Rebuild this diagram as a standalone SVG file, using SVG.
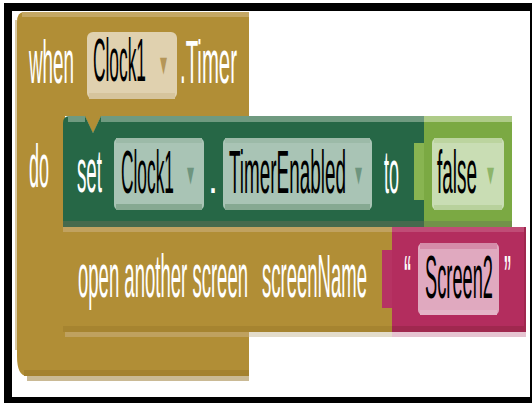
<svg xmlns="http://www.w3.org/2000/svg" width="532" height="403" viewBox="0 0 532 403">
<style>
.lbl{font-family:"Liberation Sans",Arial,sans-serif;font-size:61px;fill:#ffffff}
.fld{font-family:"Liberation Sans",Arial,sans-serif;font-size:61px;fill:#000000}
.arr{font-family:"DejaVu Sans",sans-serif;font-size:34px}
</style>
<rect x="0" y="0" width="532" height="403" fill="#ffffff"/>
<g id="frame">
<rect x="4" y="3" width="528" height="400" fill="#000000"/>
<rect x="12" y="11" width="518" height="386" fill="#ffffff"/>
</g>
<g id="event-block">
<path d="M24 12H249V116H101L93 133L85 116H65V332H249V376H27Q17 376 17 356V22Q17 12 24 12Z" fill="#B18E36"/>
<polygon points="85,116 101,116 93,133" fill="#B18E36"/>
<rect x="22" y="12" width="227" height="5" fill="#C4A764"/>
<rect x="15" y="20" width="2" height="330" fill="#D9C9A3"/>
<rect x="24" y="370" width="225" height="6" fill="#A4822F"/>
<rect x="27" y="376" width="222" height="5" fill="#CABA95"/>
<rect x="65" y="332" width="184" height="5" fill="#BFA15F"/>
<rect x="87" y="32" width="90" height="67" rx="6" fill="#E0D1AF"/>
<rect x="89" y="93" width="86" height="6" fill="#D6C49C"/>
<text class="lbl" x="29" y="83" textLength="45" lengthAdjust="spacingAndGlyphs">when</text>
<text class="fld" x="93" y="81" textLength="53" lengthAdjust="spacingAndGlyphs">Clock1</text>
<text class="arr" x="160" y="75" fill="#B59658" textLength="7" lengthAdjust="spacingAndGlyphs">▾</text>
<text class="lbl" x="180" y="83" textLength="57" lengthAdjust="spacingAndGlyphs">.Timer</text>
<text class="lbl" x="29" y="187" textLength="20" lengthAdjust="spacingAndGlyphs">do</text>
</g>
<g id="set-block">
<path d="M70 116H85L93 133L101 116H424V227H102L93 240L84 227H63V123Q63 116 70 116Z" fill="#266746"/>
<rect x="68" y="116" width="17" height="6" fill="#6F9A80"/>
<rect x="101" y="116" width="323" height="6" fill="#6F9A80"/>
<rect x="63" y="221" width="361" height="6" fill="#466A4D"/>
<rect x="114" y="138" width="90" height="72" rx="5" fill="#A9C4B5"/>
<rect x="116" y="138" width="86" height="5" fill="#9CBAA8"/>
<rect x="116" y="204" width="86" height="6" fill="#86A992"/>
<rect x="223" y="138" width="149" height="72" rx="5" fill="#A9C4B5"/>
<rect x="225" y="138" width="145" height="5" fill="#9CBAA8"/>
<rect x="225" y="204" width="145" height="6" fill="#86A992"/>
<text class="lbl" x="77" y="192" textLength="25" lengthAdjust="spacingAndGlyphs">set</text>
<text class="fld" x="121" y="193" textLength="53" lengthAdjust="spacingAndGlyphs">Clock1</text>
<text class="arr" x="187" y="185" fill="#6E957F" textLength="7" lengthAdjust="spacingAndGlyphs">▾</text>
<text class="lbl" x="208" y="193" style="font-size:44px" textLength="10" lengthAdjust="spacingAndGlyphs">.</text>
<text class="fld" x="229" y="193" textLength="117" lengthAdjust="spacingAndGlyphs">TimerEnabled</text>
<text class="arr" x="355" y="185" fill="#6E957F" textLength="7" lengthAdjust="spacingAndGlyphs">▾</text>
<text class="lbl" x="384" y="193" textLength="15" lengthAdjust="spacingAndGlyphs">to</text>
</g>
<g id="false-block">
<path d="M424 116H512V227H424V200H414V143H424Z" fill="#7BA943"/>
<rect x="414" y="143" width="10" height="57" fill="#88B451"/>
<rect x="424" y="116" width="88" height="6" fill="#AECB88"/>
<rect x="424" y="221" width="88" height="6" fill="#72924A"/>
<rect x="432" y="138" width="72" height="72" rx="5" fill="#C9DDB4"/>
<rect x="434" y="138" width="68" height="5" fill="#BCD49F"/>
<rect x="434" y="205" width="68" height="5" fill="#B8D19C"/>
<text class="fld" x="437" y="193" textLength="40" lengthAdjust="spacingAndGlyphs">false</text>
<text class="arr" x="487" y="185" fill="#8DB56A" textLength="7" lengthAdjust="spacingAndGlyphs">▾</text>
</g>
<g id="open-screen-block">
<path d="M63 227H392V332H63Z" fill="#B18E36"/>
<rect x="63" y="227" width="329" height="5" fill="#C1A260"/>
<rect x="63" y="326" width="329" height="6" fill="#A68430"/>
<rect x="249" y="332" width="143" height="5" fill="#E3DCCB"/>
<text class="lbl" x="78" y="297" textLength="170" lengthAdjust="spacingAndGlyphs">open another screen</text>
<text class="lbl" x="262" y="297" textLength="105" lengthAdjust="spacingAndGlyphs">screenName</text>
</g>
<g id="text-block">
<path d="M392 227H526V332H392V308H382V250H392Z" fill="#B32D5E"/>
<rect x="382" y="250" width="10" height="58" fill="#B63363"/>
<rect x="392" y="227" width="134" height="5" fill="#C04C76"/>
<rect x="392" y="326" width="134" height="6" fill="#A0284F"/>
<rect x="524" y="227" width="2" height="105" fill="#A0284F"/>
<rect x="392" y="332" width="134" height="5" fill="#E6C4D1"/>
<rect x="418" y="243" width="81" height="72" rx="5" fill="#E0A9BF"/>
<rect x="420" y="243" width="77" height="6" fill="#D58CA9"/>
<rect x="420" y="310" width="77" height="5" fill="#E4B5C7"/>
<text class="lbl" x="404" y="298" textLength="7" lengthAdjust="spacingAndGlyphs">“</text>
<text class="fld" x="425" y="298" textLength="68" lengthAdjust="spacingAndGlyphs">Screen2</text>
<text class="lbl" x="504" y="298" textLength="7" lengthAdjust="spacingAndGlyphs">”</text>
</g>
<g id="connectors"/>
</svg>
